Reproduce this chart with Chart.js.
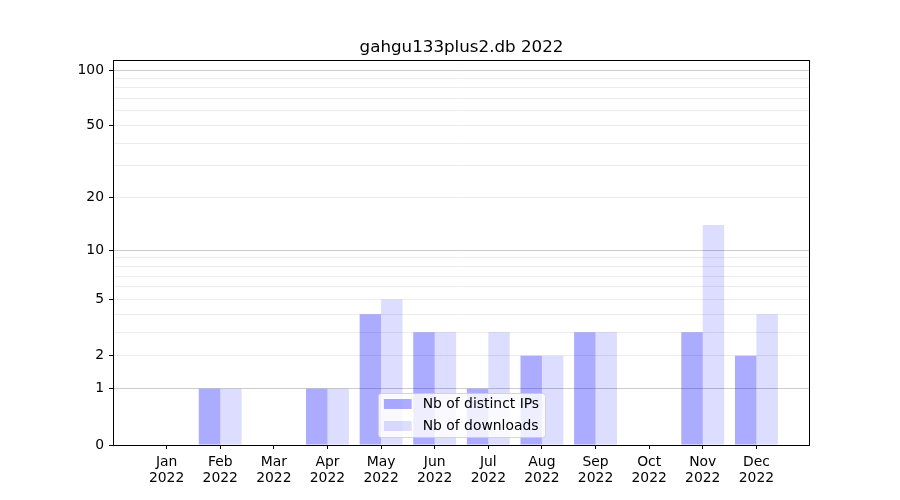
<!DOCTYPE html>
<html lang="en">
<head>
  <meta charset="UTF-8">
  <script src="https://cdn.jsdelivr.net/npm/chart.js"></script>
  <title>gahgu133plus2.db 2022</title>
  <style>
    body { margin: 0; background: #fff; }
    canvas { display: block; }
  </style>
</head>
<body>

<canvas id="barChart" width="900" height="500"></canvas>

<script>
  // data
  const chartTitle = 'gahgu133plus2.db 2022';
  const months = ['Jan', 'Feb', 'Mar', 'Apr', 'May', 'Jun', 'Jul', 'Aug', 'Sep', 'Oct', 'Nov', 'Dec'];
  const year = '2022';
  const distinctIps = [0, 1, 0, 1, 4, 3, 1, 2, 3, 0, 3, 2];
  const downloads = [0, 1, 0, 1, 5, 3, 3, 2, 3, 0, 14, 4];

  // y axis is log10(1 + v)
  const yLabelValues = [0, 1, 2, 5, 10, 20, 50, 100];
  const yMajorGrid = [1, 10, 100];
  const yMinorGrid = [2, 3, 4, 5, 6, 7, 8, 9, 20, 30, 40, 50, 60, 70, 80, 90];

  const font = "'DejaVu Sans', sans-serif";
  const f = v => Math.log10(1 + v);
  const inv = t => Math.round(Math.pow(10, t) - 1);

  const yMax = f(100) * 385 / 375;

  const toPoints = arr => arr.map((v, i) => ({ x: i, y: f(v) }));

  const allGrid = Array.from(new Set([0].concat(yMajorGrid, yMinorGrid))).sort((a, b) => a - b);

  const frameAndText = {
    id: 'frameAndText',
    afterDraw(chart) {
      const ctx = chart.ctx;
      const a = chart.chartArea;
      ctx.save();
      // frame all round
      ctx.strokeStyle = '#000';
      ctx.lineWidth = 1;
      ctx.strokeRect(Math.round(a.left) + 0.5, Math.round(a.top) + 0.5,
        Math.round(a.right - a.left) - 1, Math.round(a.bottom - a.top));

      // title
      ctx.fillStyle = '#000';
      ctx.font = '16.7px ' + font;
      ctx.textAlign = 'center';
      ctx.textBaseline = 'alphabetic';
      ctx.fillText(chartTitle, (a.left + a.right) / 2, a.top - 8);

      // legend, lower center inside the plot
      ctx.font = '13.9px ' + font;
      const items = chart.data.datasets;
      const textW = Math.max(...items.map(d => ctx.measureText(d.label).width));
      const w = 6 + 27.8 + 11 + textW + 6;
      const h = 44;
      const x0 = (a.left + a.right) / 2 - w / 2;
      const y0 = a.bottom - 8 - h;
      ctx.beginPath();
      ctx.roundRect(x0 + 0.5, y0 + 0.5, w, h, 3);
      ctx.fillStyle = 'rgba(255,255,255,0.8)';
      ctx.fill();
      ctx.strokeStyle = 'rgba(204,204,204,0.8)';
      ctx.stroke();
      items.forEach((d, i) => {
        const cy = y0 + 11 + i * 22;
        ctx.fillStyle = d.backgroundColor;
        ctx.fillRect(x0 + 6, cy - 5, 27.8, 10);
        ctx.fillStyle = '#000';
        ctx.textAlign = 'left';
        ctx.textBaseline = 'middle';
        ctx.fillText(d.label, x0 + 6 + 27.8 + 11, cy);
      });
      ctx.restore();
    }
  };

  new Chart(document.getElementById('barChart'), {
    type: 'bar',
    data: {
      datasets: [{
        label: 'Nb of distinct IPs',
        data: toPoints(distinctIps),
        backgroundColor: 'rgba(0,0,255,0.33)',
        borderWidth: 0,
        categoryPercentage: 0.8,
        barPercentage: 1.0
      }, {
        label: 'Nb of downloads',
        data: toPoints(downloads),
        backgroundColor: 'rgba(0,0,255,0.135)',
        borderWidth: 0,
        categoryPercentage: 0.8,
        barPercentage: 1.0
      }]
    },
    options: {
      responsive: false,
      animation: false,
      layout: { padding: { top: 60, right: 90, left: 0, bottom: 0 } },
      plugins: {
        legend: { display: false },
        title: { display: false },
        tooltip: { enabled: false }
      },
      scales: {
        x: {
          type: 'linear',
          min: -1,
          max: 12,
          offset: false,
          border: { display: false },
          grid: {
            drawOnChartArea: false,
            offset: false,
            tickLength: 4,
            tickColor: c => (c.tick && c.tick.value >= 0 && c.tick.value <= 11) ? '#000' : 'rgba(0,0,0,0)'
          },
          ticks: {
            stepSize: 1,
            autoSkip: false,
            maxRotation: 0,
            padding: 5,
            color: '#000',
            font: { family: font, size: 13.9, lineHeight: 1.15 },
            callback: v => (v >= 0 && v <= 11) ? [months[v], year] : ''
          },
          afterFit: s => { s.height = 55; }
        },
        y: {
          type: 'linear',
          min: 0,
          max: yMax,
          border: { display: false },
          afterBuildTicks: s => { s.ticks = allGrid.map(v => ({ value: f(v) })); },
          grid: {
            tickLength: 4,
            lineWidth: 1,
            color: c => {
              const v = inv(c.tick.value);
              if (v === 0) return 'rgba(0,0,0,0)';
              return yMajorGrid.includes(v) ? '#cccccc' : '#ececec';
            },
            tickColor: c => yLabelValues.includes(inv(c.tick.value)) ? '#000' : 'rgba(0,0,0,0)'
          },
          ticks: {
            autoSkip: false,
            padding: 5,
            color: '#000',
            font: { family: font, size: 13.9 },
            callback: t => {
              const v = inv(t);
              return yLabelValues.includes(v) ? String(v) : '';
            }
          },
          afterFit: s => { s.width = 113; }
        }
      }
    },
    plugins: [frameAndText]
  });
</script>

</body>
</html>
